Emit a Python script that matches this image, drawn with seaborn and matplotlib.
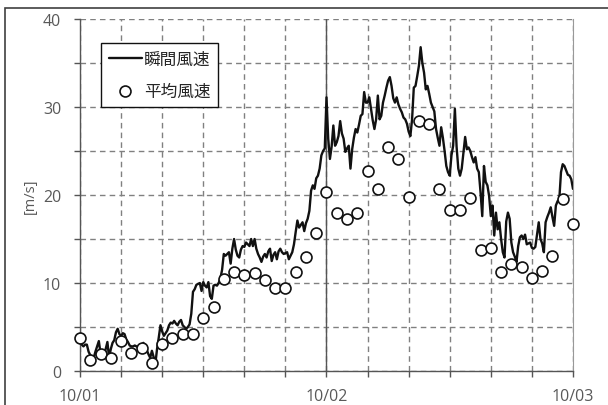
import numpy as np
import pandas as pd
import seaborn as sns
import matplotlib.pyplot as plt
from matplotlib.patches import Rectangle

# hourly mean wind speed, 10/01 00:00 .. 10/03 00:00
mean_hours = list(range(49))
mean_speed = [3.8, 1.3, 1.9, 1.5, 3.4, 2.1, 2.6, 0.9, 3.1, 3.7,
              4.2, 4.2, 6.0, 7.3, 10.4, 11.3, 10.9, 11.1, 10.3, 9.4,
              9.4, 11.3, 12.9, 15.7, 20.3, 17.9, 17.3, 17.9, 22.7, 20.7,
              25.5, 24.1, 19.8, 28.4, 28.1, 20.7, 18.3, 18.3, 19.7, 13.7,
              14.0, 11.2, 12.2, 11.8, 10.6, 11.4, 13.1, 19.5, 16.7]

# gust (instantaneous) wind speed, 10 minute steps, one row per hour
gust_speed = [
    3.6, 3.0, 2.8, 3.0, 3.0, 2.2,
    1.8, 1.6, 1.5, 2.2, 2.8, 3.4,
    2.0, 1.8, 1.7, 2.5, 3.3, 1.5,
    2.5, 3.2, 3.5, 4.4, 4.8, 4.2,
    4.0, 4.3, 4.2, 3.6, 3.3, 2.9,
    2.8, 2.8, 2.9, 2.8, 2.7, 2.6,
    2.8, 3.2, 2.8, 2.4, 1.9, 1.5,
    2.3, 1.6, 0.8, 2.5, 3.8, 5.2,
    4.5, 4.0, 4.3, 4.6, 5.2, 5.5,
    5.4, 5.7, 5.4, 5.2, 5.6, 5.8,
    5.2, 5.0, 4.8, 5.0, 5.3, 6.5,
    9.0, 9.3, 9.8, 9.9, 10.0, 9.1,
    10.1, 9.7, 9.5, 10.1, 8.5, 8.2,
    9.7, 9.8, 9.7, 10.0, 10.5, 11.5,
    13.3, 13.1, 13.3, 13.5, 12.2, 13.9,
    15.0, 13.8, 13.1, 12.9, 13.8, 14.2,
    14.1, 14.6, 14.4, 14.2, 15.0, 14.2,
    15.0, 13.9, 13.3, 12.9, 12.4, 13.0,
    13.3, 12.9, 13.6, 13.9, 12.5, 13.2,
    13.5, 12.7, 13.6, 13.9, 13.5, 13.3,
    13.4, 13.5, 12.7, 13.1, 13.5, 14.4,
    15.8, 17.1, 16.3, 16.6, 16.9, 15.9,
    16.8, 17.3, 18.2, 20.5, 21.1, 20.7,
    21.9, 22.2, 23.0, 24.5, 25.0, 25.3,
    31.1, 26.4, 24.1, 25.5, 27.9, 25.6,
    26.0, 26.7, 28.4, 27.0, 26.4, 24.9,
    25.3, 25.6, 23.0, 25.2, 26.5, 27.5,
    27.1, 28.0, 29.0, 29.2, 31.7, 30.5,
    30.5, 31.1, 29.8, 28.5, 27.5, 28.6,
    31.3, 28.6, 29.0, 30.5, 31.3, 32.2,
    33.0, 33.4, 32.4, 31.0, 30.5, 31.1,
    30.3, 29.8, 29.4, 28.8, 28.6, 28.1,
    27.2, 26.7, 28.6, 32.2, 32.4, 33.5,
    34.7, 36.8, 35.0, 33.9, 32.0, 32.4,
    31.5, 30.5, 30.0, 29.5, 27.5, 26.5,
    25.6, 27.7, 26.5, 25.0, 23.3, 22.6,
    22.2, 24.5, 25.6, 29.8, 25.5, 23.0,
    22.2, 23.0, 24.8, 26.6, 25.2, 25.4,
    25.0, 24.3, 23.7, 24.3, 23.0, 22.6,
    20.3, 17.6, 23.3, 21.5, 21.1, 19.9,
    17.6, 18.8, 15.4, 18.0, 16.1, 16.9,
    15.0, 13.5, 12.9, 17.0, 18.0, 17.3,
    14.6, 13.5, 13.0, 12.4, 14.2, 15.2,
    15.4, 15.0, 15.5, 14.4, 14.5, 14.6,
    14.0, 13.9, 14.1, 15.5, 16.9, 15.0,
    14.5, 13.5, 16.9, 17.5, 18.0, 18.6,
    17.5, 16.5, 18.8, 19.3, 19.5, 22.6,
    23.5, 23.3, 22.8, 22.3, 22.2, 21.8,
    20.7]

day_labels = ["10/01", "10/02", "10/03"]

gust = pd.DataFrame({"hour": np.arange(len(gust_speed)) / 6, "speed": gust_speed})
mean = pd.DataFrame({"hour": mean_hours, "speed": mean_speed})

sns.set_style("ticks")
plt.rcParams["font.family"] = ["Open Sans", "Noto Sans CJK JP", "DejaVu Sans"]

fig = plt.figure(figsize=(6.08, 4.06), dpi=100)
ax = fig.add_axes([0.1316, 0.0837, 0.8108, 0.867])

# outer frame of the picture
fig.patches.append(Rectangle((0.009, -0.05), 1.1, 1.028, transform=fig.transFigure,
                             fill=False, edgecolor="#404040", linewidth=1.2))

sns.lineplot(data=gust, x="hour", y="speed", ax=ax, color="#111111",
             linewidth=1.7, label="瞬間風速", zorder=3)
sns.scatterplot(data=mean, x="hour", y="speed", ax=ax, marker="o", s=62,
                facecolor="white", edgecolor="#111111", linewidth=1.2,
                label="平均風速", zorder=4, clip_on=False)

ax.set_xlim(0, 48)
ax.set_ylim(0, 40)
ax.set_xticks(range(0, 49, 4))
ax.set_xticklabels([day_labels[h // 24] if h % 24 == 0 else "" for h in range(0, 49, 4)])
ax.set_yticks(range(0, 41, 5))
ax.set_yticklabels([str(v) if v % 10 == 0 else "" for v in range(0, 41, 5)])
ax.grid(True, color="#808080", linestyle=(0, (4, 3)), linewidth=1)
ax.axvline(24, color="#555555", linewidth=1, zorder=2)

for side in ["left", "bottom"]:
    ax.spines[side].set_color("#555555")
    ax.spines[side].set_linewidth(1)
ax.spines["top"].set_visible(False)
ax.spines["right"].set_color("#999999")
ax.spines["right"].set_linewidth(0.8)

ax.tick_params(axis="both", colors="#555555", labelcolor="#595959",
               labelsize=11.5, length=4.5, width=1)
ax.tick_params(axis="y", pad=9)
ax.tick_params(axis="x", pad=8)
ax.set_xlabel("")
ax.set_ylabel("[m/s]", color="#595959", fontsize=10.5, labelpad=4)

leg = ax.legend(loc="upper left", bbox_to_anchor=(0.043, 0.932), borderaxespad=0,
                frameon=True, fancybox=False, framealpha=1, edgecolor="#111111",
                handlelength=2.0, handletextpad=0.1, labelspacing=0.9,
                borderpad=0.45, prop={"family": ["Noto Sans CJK JP"], "size": 12})
leg.get_frame().set_linewidth(1)
leg.set_zorder(5)

fig.savefig("out.png", dpi=100)
